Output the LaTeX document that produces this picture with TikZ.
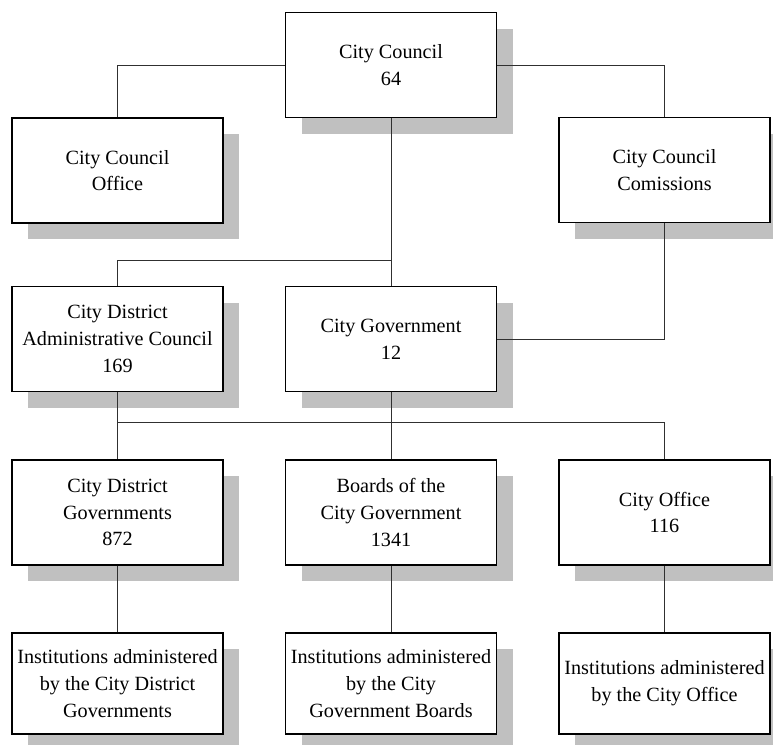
\documentclass[tikz,border=0pt]{standalone}
\usepackage{fontspec}
\setmainfont{Liberation Serif}
\usetikzlibrary{shadows}
\definecolor{shadowgray}{HTML}{C0C0C0}
\definecolor{linegray}{HTML}{303030}
\tikzset{
  box/.style={draw=black, fill=white, line width=1.1pt, minimum width=211pt,
    minimum height=105pt, align=center, inner sep=0pt,
    font=\fontsize{20.2}{26.7}\selectfont,
    drop shadow={shadow xshift=16pt, shadow yshift=-16pt, fill=shadowgray, opacity=1}},
  lowbox/.style={box, minimum height=101pt},
  conn/.style={draw=linegray, line width=1pt}
}
\begin{document}
\begin{tikzpicture}[x=1pt, y=-1pt]
\fill[white] (0,0) rectangle (773,744);
\useasboundingbox (0,0) rectangle (773,744);
\clip (0,0) rectangle (773,744);

\node[box] (cc)   at (391,65)     {City Council\\64};
\node[box] (off)  at (117.5,170.5){City Council\\Office};
\node[box] (com)  at (664.5,170)  {City Council\\Comissions};
\node[box] (cdac) at (117.5,339)  {City District\\Administrative Council\\169};
\node[box] (cg)   at (391,339)    {City Government\\12};
\node[box] (cdg)  at (117.5,512.5){City District\\Governments\\872};
\node[box] (bcg)  at (391,512.5)  {Boards of the\\City Government\\1341};
\node[box] (co)   at (664.5,512.5){City Office\\116};
\node[lowbox] (i1) at (117.5,683.5){Institutions administered\\by the City District\\Governments};
\node[lowbox] (i2) at (391,683.5)  {Institutions administered\\by the City\\Government Boards};
\node[lowbox] (i3) at (664.5,683.5){Institutions administered\\by the City Office};

\coordinate (j1) at (391,260);
\coordinate (j2) at (117.5,422);

\draw[conn] (cc.west) -| (off.north);
\draw[conn] (cc.east) -| (com.north);
\draw[conn] (cc.south) -- (cg.north);
\draw[conn] (j1) -| (cdac.north);
\draw[conn] (com.south) |- (cg.east);
\draw[conn] (cdac.south) -- (cdg.north);
\draw[conn] (cg.south) -- (bcg.north);
\draw[conn] (j2) -| (co.north);
\draw[conn] (cdg.south) -- (i1.north);
\draw[conn] (bcg.south) -- (i2.north);
\draw[conn] (co.south) -- (i3.north);
\end{tikzpicture}
\end{document}
